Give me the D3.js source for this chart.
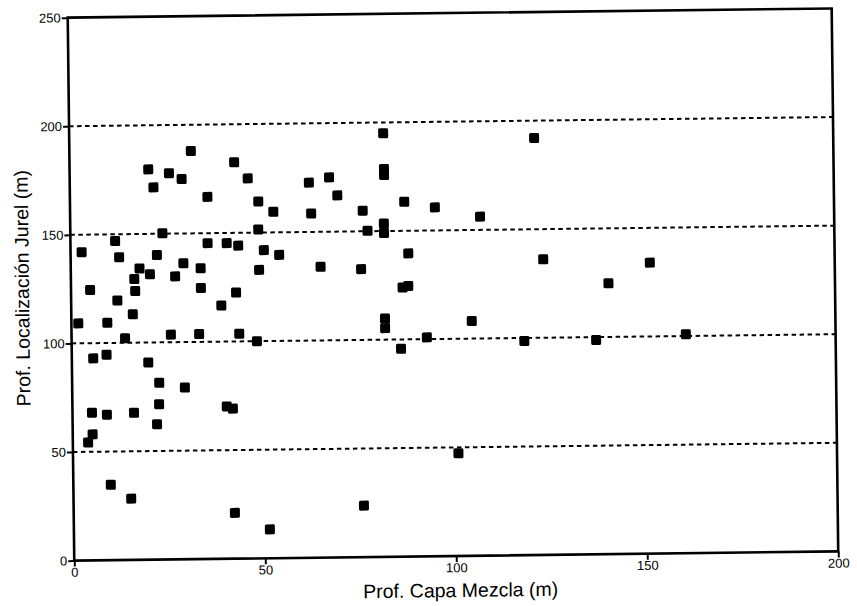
<!DOCTYPE html>
<html>
<head>
<meta charset="utf-8">
<script src="https://cdn.jsdelivr.net/npm/d3@7"></script>
<style>
  html, body { margin: 0; padding: 0; background: #fff; }
  svg { display: block; }
  text { font-family: "Liberation Sans", Arial, sans-serif; fill: #000; }
</style>
</head>
<body>
<svg id="chart" width="857" height="606"></svg>
<script>
// ---- Data ----
const xTickValues = [0, 50, 100, 150, 200];
const yTickValues = [0, 50, 100, 150, 200, 250];
const gridValues = [50, 100, 150, 200];

// Prof. Capa Mezcla (m)
const mixedLayerDepth = [
  31.8, 20.6, 26.0, 29.3, 21.9, 36.0, 43.1, 46.6, 49.3, 24.1,
  49.2, 11.7, 2.9, 35.9, 40.9, 43.9, 12.7, 22.6, 18.0, 29.5,
  34.0, 20.7, 16.6, 27.3, 49.3, 5.0, 16.8, 34.0, 43.2, 12.1,
  16.1, 39.3, 1.8, 9.4, 14.0, 26.0, 33.4, 43.9, 48.5, 5.6,
  9.1, 20.0, 22.8, 29.5, 5.1, 9.0, 16.1, 22.7, 22.1, 40.4,
  42.0, 5.2, 4.0, 9.8, 15.1, 42.2, 51.3, 76.0, 100.9, 62.6,
  67.9, 70.0, 82.3, 82.3, 82.2, 53.2, 63.1, 76.6, 87.5, 95.5,
  77.8, 82.1, 82.1, 50.6, 54.6, 88.4, 65.4, 76.0, 86.8, 88.3,
  82.1, 82.1, 86.2, 93.0, 121.7, 107.3, 123.7, 151.6, 140.7, 104.8,
  118.5, 137.3, 160.8
];
// Prof. Localización Jurel (m)
const jurelDepth = [
  187.9, 179.7, 177.8, 175.1, 171.4, 166.7, 182.5, 175.0, 164.3, 150.2,
  151.4, 146.9, 141.9, 145.4, 145.3, 144.1, 139.4, 140.2, 134.1, 136.3,
  133.9, 131.4, 129.3, 130.3, 132.8, 124.5, 123.8, 124.8, 122.5, 119.5,
  113.1, 116.6, 109.2, 109.3, 102.1, 103.5, 103.6, 103.5, 100.0, 93.0,
  94.6, 90.8, 81.4, 79.1, 68.0, 67.0, 67.7, 71.5, 62.3, 70.1,
  69.1, 58.0, 54.3, 34.7, 28.2, 21.1, 13.3, 23.7, 47.3, 172.7,
  175.0, 166.7, 178.6, 175.8, 195.0, 159.5, 158.5, 159.5, 163.4, 160.6,
  150.2, 153.5, 149.1, 141.9, 139.6, 139.6, 133.9, 132.6, 123.9, 124.6,
  109.7, 105.3, 95.7, 100.8, 192.0, 156.1, 136.1, 134.0, 124.7, 108.1,
  98.6, 98.7, 100.8
];

const xTitle = "Prof. Capa Mezcla (m)";
const yTitle = "Prof. Localización Jurel (m)";

// ---- Drawing ----
const svg = d3.select("#chart");
// the scanned original is very slightly rotated
const g = svg.append("g").attr("transform", "rotate(-0.69, 455, 287)");

const x = d3.scaleLinear().domain([0, 200]).range([71, 835]);
const y = d3.scaleLinear().domain([0, 250]).range([556, 13]);

// dashed grid lines
g.append("g").selectAll("line").data(gridValues).join("line")
  .attr("x1", x(0)).attr("x2", x(200))
  .attr("y1", d => y(d)).attr("y2", d => y(d))
  .attr("stroke", "#000").attr("stroke-width", 2)
  .attr("stroke-dasharray", "4.5,3.5");

// axes
const yAxis = g.append("g").attr("transform", `translate(${x(0)},0)`)
  .call(d3.axisLeft(y).tickValues(yTickValues).tickSize(6).tickSizeOuter(0).tickPadding(1).tickFormat(d3.format("d")));
const xAxis = g.append("g").attr("transform", `translate(0,${y(0)})`)
  .call(d3.axisBottom(x).tickValues(xTickValues).tickSize(6).tickSizeOuter(0).tickPadding(1).tickFormat(d3.format("d")));
[xAxis, yAxis].forEach(a => {
  a.select(".domain").remove();
  a.selectAll(".tick line").attr("stroke", "#000").attr("stroke-width", 2);
  a.selectAll(".tick text").attr("font-size", 13).attr("font-family", "'Liberation Sans', Arial, sans-serif").attr("fill", "#000");
});

// frame
g.append("rect")
  .attr("x", x(0)).attr("y", y(250))
  .attr("width", x(200) - x(0)).attr("height", y(0) - y(250))
  .attr("fill", "none").attr("stroke", "#000").attr("stroke-width", 2.6);

// points
const pts = mixedLayerDepth.map((v, i) => ({ x: v, y: jurelDepth[i] }));
const s = 10;
g.append("g").selectAll("rect").data(pts).join("rect")
  .attr("x", d => x(d.x) - s / 2).attr("y", d => y(d.y) - s / 2)
  .attr("width", s).attr("height", s).attr("rx", 1.5)
  .attr("fill", "#000");

// axis titles
g.append("text")
  .attr("x", (x(0) + x(200)) / 2 + 4).attr("y", 597)
  .attr("text-anchor", "middle").attr("font-size", 19.5)
  .text(xTitle);
g.append("text")
  .attr("transform", `translate(29, 283) rotate(-90)`)
  .attr("text-anchor", "middle").attr("font-size", 19.5)
  .text(yTitle);
</script>
</body>
</html>
